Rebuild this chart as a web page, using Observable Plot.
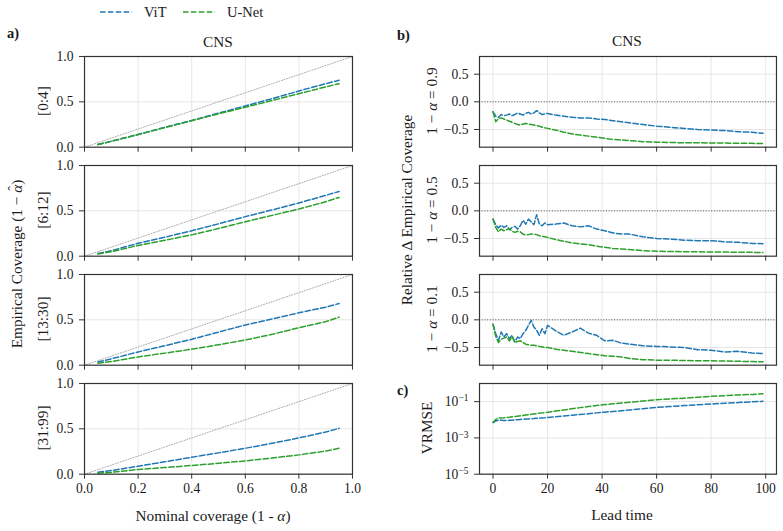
<!DOCTYPE html>
<html><head><meta charset="utf-8">
<script src="https://cdn.jsdelivr.net/npm/d3@7"></script>
<script src="https://cdn.jsdelivr.net/npm/@observablehq/plot@0.6"></script>
<style>
body{margin:0;background:#fff;}
#fig{position:relative;width:783px;height:531px;font-family:'Liberation Serif',serif;color:#1a1a1a;overflow:hidden;font-size:15.3px}
#fig svg, #fig svg text{font-family:'Liberation Serif',serif}
.abs{position:absolute;white-space:nowrap;line-height:1}
.c{transform:translate(-50%,-50%)}
.r{transform:translate(-50%,-50%) rotate(-90deg)}
.b{font-weight:bold;font-size:14.5px}
.hat{position:relative;display:inline-block}
.hat .h{position:absolute;left:0.12em;top:-0.28em;font-style:normal}
</style></head><body><div id="fig"></div>
<script>
// ---------- data ----------
const methods = ["ViT", "U-Net"];
const methodColors = ["#1f77b4", "#2ca02c"];
const leadGroups = ["[0:4]", "[6:12]", "[13:30]", "[31:99]"];
const nominal = [0.05, 0.1, 0.2, 0.3, 0.4, 0.5, 0.6, 0.7, 0.8, 0.9, 0.95];
const diagonal = [0, 1];

const coverageViT = [
  [0.03, 0.065, 0.14, 0.22, 0.295, 0.375, 0.455, 0.535, 0.62, 0.70, 0.738],
  [0.03, 0.06, 0.143, 0.21, 0.28, 0.357, 0.436, 0.51, 0.587, 0.67, 0.714],
  [0.036, 0.07, 0.146, 0.215, 0.286, 0.365, 0.443, 0.51, 0.578, 0.64, 0.68],
  [0.022, 0.04, 0.088, 0.137, 0.187, 0.235, 0.286, 0.34, 0.40, 0.465, 0.505]
];
const coverageUNet = [
  [0.03, 0.065, 0.14, 0.216, 0.292, 0.368, 0.44, 0.515, 0.59, 0.665, 0.70],
  [0.025, 0.05, 0.118, 0.176, 0.235, 0.305, 0.38, 0.45, 0.52, 0.60, 0.648],
  [0.022, 0.04, 0.091, 0.133, 0.176, 0.225, 0.278, 0.34, 0.413, 0.48, 0.53],
  [0.011, 0.02, 0.052, 0.073, 0.096, 0.12, 0.147, 0.178, 0.213, 0.255, 0.286]
];

const leadTime = [0,1,2,3,4,5,6,7,8,9,10,11,12,13,14,15,16,17,18,19,20,
  23,26,29,32,35,38,41,44,47,50,55,60,65,70,75,80,85,90,95,99];
const levelLabels = ["0.9", "0.5", "0.1"];

const relViT = [
  [-0.18,-0.26,-0.28,-0.23,-0.25,-0.24,-0.22,-0.25,-0.23,-0.20,-0.22,-0.24,-0.21,-0.19,-0.22,-0.20,-0.16,-0.20,-0.23,-0.22,-0.21,
   -0.24,-0.26,-0.28,-0.29,-0.29,-0.31,-0.32,-0.34,-0.36,-0.38,-0.41,-0.44,-0.46,-0.48,-0.50,-0.51,-0.52,-0.54,-0.55,-0.57],
  [-0.15,-0.25,-0.31,-0.26,-0.30,-0.27,-0.34,-0.30,-0.28,-0.33,-0.27,-0.17,-0.24,-0.15,-0.20,-0.25,-0.07,-0.24,-0.27,-0.22,-0.25,
   -0.24,-0.22,-0.27,-0.29,-0.27,-0.33,-0.36,-0.40,-0.42,-0.42,-0.47,-0.50,-0.51,-0.53,-0.54,-0.54,-0.56,-0.57,-0.59,-0.595],
  [-0.08,-0.25,-0.37,-0.22,-0.31,-0.25,-0.34,-0.28,-0.40,-0.31,-0.34,-0.25,-0.19,-0.10,-0.01,-0.13,-0.19,-0.28,-0.16,-0.25,-0.10,
   -0.20,-0.28,-0.22,-0.15,-0.24,-0.28,-0.38,-0.37,-0.42,-0.44,-0.47,-0.48,-0.49,-0.50,-0.54,-0.55,-0.58,-0.57,-0.60,-0.61]
];
const relUNet = [
  [-0.18,-0.36,-0.30,-0.29,-0.31,-0.33,-0.35,-0.37,-0.39,-0.41,-0.42,-0.40,-0.39,-0.40,-0.41,-0.42,-0.43,-0.44,-0.46,-0.47,-0.48,
   -0.51,-0.55,-0.58,-0.60,-0.62,-0.64,-0.66,-0.68,-0.69,-0.70,-0.72,-0.73,-0.735,-0.74,-0.74,-0.745,-0.745,-0.75,-0.75,-0.755],
  [-0.15,-0.30,-0.38,-0.33,-0.36,-0.34,-0.32,-0.37,-0.39,-0.37,-0.38,-0.42,-0.44,-0.43,-0.42,-0.42,-0.43,-0.45,-0.46,-0.47,-0.48,
   -0.52,-0.55,-0.58,-0.60,-0.61,-0.64,-0.66,-0.68,-0.69,-0.70,-0.72,-0.73,-0.735,-0.74,-0.74,-0.745,-0.745,-0.75,-0.75,-0.755],
  [-0.08,-0.30,-0.41,-0.35,-0.33,-0.31,-0.38,-0.30,-0.41,-0.39,-0.38,-0.41,-0.44,-0.45,-0.46,-0.46,-0.47,-0.48,-0.49,-0.50,-0.50,
   -0.53,-0.55,-0.57,-0.59,-0.61,-0.63,-0.65,-0.66,-0.67,-0.70,-0.72,-0.73,-0.73,-0.735,-0.74,-0.74,-0.745,-0.75,-0.755,-0.76]
];
const vrmseViT = [0.0071,0.0085,0.0095,0.0093,0.0091,0.0091,0.0093,0.0095,0.0098,0.0100,0.0105,0.0107,0.0110,0.0112,0.0115,0.0117,0.0120,0.0123,0.0126,0.0129,0.0135,
  0.0148,0.0162,0.0178,0.0195,0.0214,0.0240,0.0263,0.0288,0.0316,0.0347,0.0407,0.0479,0.0537,0.0603,0.0676,0.0741,0.0813,0.0891,0.0977,0.105];
const vrmseUNet = [0.0071,0.0105,0.0123,0.0126,0.0129,0.0135,0.0138,0.0145,0.0151,0.0158,0.0166,0.0174,0.0182,0.0191,0.0200,0.0209,0.0219,0.0229,0.0240,0.0251,0.0257,
  0.0302,0.0347,0.0407,0.0468,0.0537,0.0617,0.0692,0.0759,0.0832,0.0912,0.107,0.129,0.141,0.155,0.174,0.195,0.214,0.234,0.251,0.269];

const covTicks = [0, 0.5, 1];
const nomTicks = [0, 0.2, 0.4, 0.6, 0.8, 1];
const relTicks = [-0.5, 0, 0.5];
const leadTicks = [0, 20, 40, 60, 80, 100];
const vrmseTicks = [1e-5, 1e-3, 1e-1];

// ---------- layout ----------
const fig = document.getElementById("fig");
const font = "'Liberation Serif', serif";
const frameTops = [55.7, 164.7, 273.5, 383];
const frameH = 90.7;
const leftL = 84.3, leftW = 268;
const rightL = 479, rightW = 297;
const gridStroke = "#e6e6e6";
const spine = "#333333";
const dash = "5.5,2.4";
const mT = 10, mR = 12;

function place(svg, left, top) {
  svg.style.position = "absolute";
  svg.style.left = left + "px";
  svg.style.top = top + "px";
  fig.appendChild(svg);
}
const style = {fontFamily: font, fontSize: "13.6px", color: "#1a1a1a", background: "none", overflow: "visible"};
const fmt1 = d => d < 0 ? "\u2212" + Math.abs(d).toFixed(1) : d.toFixed(1);

function seriesLines(xs, ys1, ys2) {
  const a = xs.map((x, i) => ({x, y: ys1[i]}));
  const b = xs.map((x, i) => ({x, y: ys2[i]}));
  return [
    Plot.line(a, {x: "x", y: "y", stroke: methodColors[0], strokeWidth: 1.5, strokeDasharray: dash}),
    Plot.line(b, {x: "x", y: "y", stroke: methodColors[1], strokeWidth: 1.5, strokeDasharray: dash})
  ];
}

// left column
leadGroups.forEach((g, k) => {
  const showX = k === 3;
  const mB = showX ? 26 : 10;
  const p = Plot.plot({
    width: 84 + leftW + mR, height: mT + frameH + mB,
    marginLeft: 84, marginRight: mR, marginTop: mT, marginBottom: mB,
    style,
    x: {domain: [0, 1]}, y: {domain: [0, 1]},
    marks: [
      Plot.gridX(nomTicks, {stroke: gridStroke, strokeOpacity: 1}),
      Plot.gridY(covTicks, {stroke: gridStroke, strokeOpacity: 1}),
      Plot.line(diagonal, {x: d => d, y: d => d, stroke: "#a8a8a8", strokeWidth: 1, strokeDasharray: "1,1.7"}),
      ...seriesLines(nominal, coverageViT[k], coverageUNet[k]),
      Plot.frame({stroke: spine, strokeWidth: 1.2}),
      Plot.axisX(nomTicks, {tickSize: 5, tickPadding: 4, stroke: spine, label: null, tickFormat: showX ? d => d.toFixed(1) : () => ""}),
      Plot.axisY(covTicks, {tickSize: 5, tickPadding: 6, stroke: spine, label: null, tickFormat: fmt1})
    ]
  });
  place(p, leftL - 84, frameTops[k] - mT);
});

// right column relative coverage
levelLabels.forEach((lv, k) => {
  const p = Plot.plot({
    width: 90 + rightW + 7, height: mT + frameH + 10,
    marginLeft: 90, marginRight: 7, marginTop: mT, marginBottom: 10,
    style,
    x: {domain: [-4.95, 103.95]}, y: {domain: [-0.82, 0.82]},
    marks: [
      Plot.gridX(leadTicks, {stroke: gridStroke, strokeOpacity: 1}),
      Plot.gridY(relTicks, {stroke: gridStroke, strokeOpacity: 1}),
      Plot.ruleY([0], {stroke: "#555", strokeWidth: 1, strokeDasharray: "1,1.7"}),
      ...seriesLines(leadTime, relViT[k], relUNet[k]),
      Plot.frame({stroke: spine, strokeWidth: 1.2}),
      Plot.axisX(leadTicks, {tickSize: 5, tickPadding: 4, stroke: spine, label: null, tickFormat: () => ""}),
      Plot.axisY(relTicks, {tickSize: 5, tickPadding: 6, stroke: spine, label: null, tickFormat: fmt1})
    ]
  });
  place(p, rightL - 90, frameTops[k] - mT);
});

// VRMSE
{
  const p = Plot.plot({
    width: 90 + rightW + 7, height: mT + frameH + 26,
    marginLeft: 90, marginRight: 7, marginTop: mT, marginBottom: 26,
    style,
    x: {domain: [-4.95, 103.95]}, y: {type: "log", domain: [1e-5, 1]},
    marks: [
      Plot.gridX(leadTicks, {stroke: gridStroke, strokeOpacity: 1}),
      Plot.gridY(vrmseTicks, {stroke: gridStroke, strokeOpacity: 1}),
      ...seriesLines(leadTime, vrmseViT, vrmseUNet),
      Plot.frame({stroke: spine, strokeWidth: 1.2}),
      Plot.axisX(leadTicks, {tickSize: 5, tickPadding: 4, stroke: spine, label: null, tickFormat: d => String(d)}),
      Plot.axisY(vrmseTicks, {tickSize: 5, tickPadding: 6, stroke: spine, label: null,
        tickFormat: d => "10|" + "\u2212" + Math.round(-Math.log10(d))})
    ]
  });
  d3.select(p).selectAll('g[aria-label="y-axis tick label"] text').each(function() {
    const t = this.textContent.split("|");
    const sel = d3.select(this);
    sel.text(t[0]);
    sel.append("tspan").attr("dy", "-0.5em").attr("font-size", "0.7em").text(t[1]);
  });
  place(p, rightL - 90, frameTops[3] - mT);
}

// ---------- text ----------
function txt(html, x, y, cls) {
  const d = document.createElement("div");
  d.className = "abs " + cls;
  d.style.left = x + "px";
  d.style.top = y + "px";
  d.innerHTML = html;
  fig.appendChild(d);
  return d;
}
// legend
const leg = d3.select(fig).append("svg").attr("width", 783).attr("height", 24)
  .style("position", "absolute").style("left", "0px").style("top", "0px");
const legX = [100, 183];
methods.forEach((m, i) => {
  leg.append("line").attr("x1", legX[i]).attr("x2", legX[i] + 32).attr("y1", 12).attr("y2", 12)
    .attr("stroke", methodColors[i]).attr("stroke-width", 1.5).attr("stroke-dasharray", dash);
  leg.append("text").attr("x", legX[i] + 44).attr("y", 12).attr("dy", "0.35em")
    .attr("font-size", 14.5).attr("fill", "#1a1a1a").text(m);
});

txt("a)", 7, 26, "b");
txt("b)", 397, 28, "b");
txt("c)", 397, 383, "b");
txt("CNS", 218, 41.5, "c");
txt("CNS", 627, 41, "c");
txt('Empirical Coverage (1 \u2212 <span class="hat"><i>\u03b1</i><span class="h">\u02c6</span></span>)', 17, 264, "r");
const centers = frameTops.map(t => t + frameH / 2);
leadGroups.forEach((g, k) => txt(g, 43, centers[k], "r"));
txt("Relative \u0394 Empirical Coverage", 407, 210, "r");
levelLabels.forEach((lv, k) => txt('1 \u2212 <i>\u03b1</i> = ' + lv, 432, centers[k], "r"));
txt("VRMSE", 427, centers[3], "r");
txt('Nominal coverage (1 - <i>\u03b1</i>)', 213, 516, "c");
txt("Lead time", 622, 515, "c");
</script></body></html>
